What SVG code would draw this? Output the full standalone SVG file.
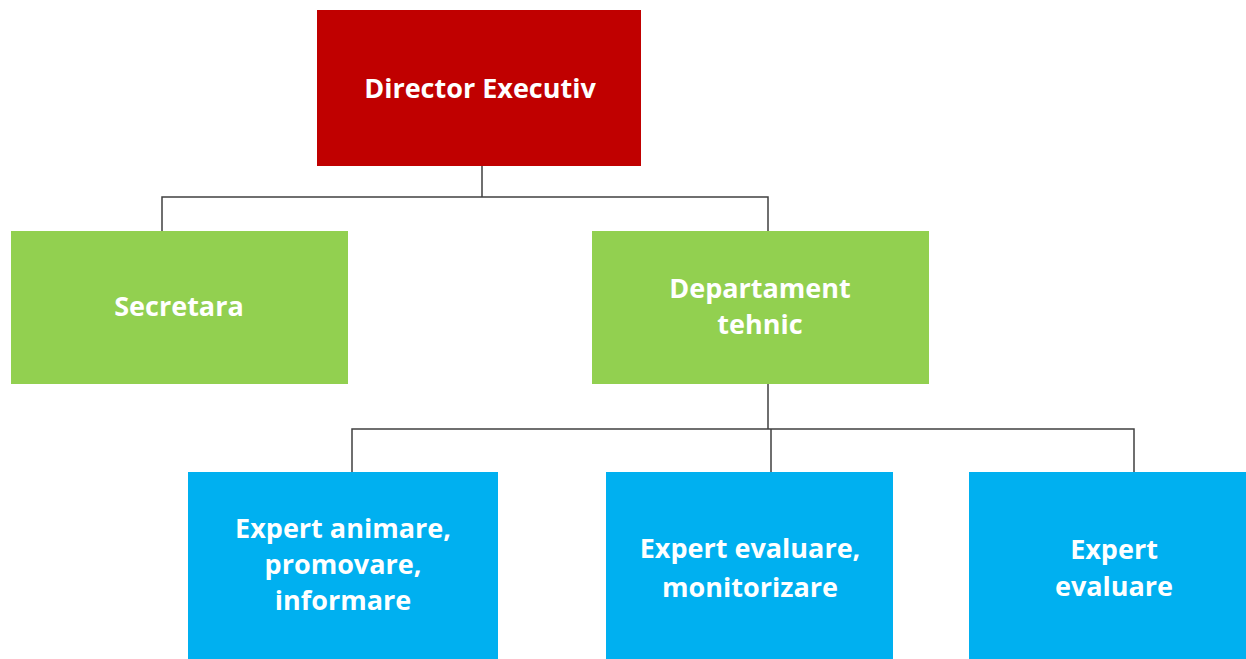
<svg xmlns="http://www.w3.org/2000/svg" width="1246" height="659" viewBox="0 0 1246 659">
<style>
.t{font-family:"Open Sans","Liberation Sans",sans-serif;font-weight:700;font-size:27px;fill:#ffffff;text-anchor:middle}
.red{fill:#c00000}
.green{fill:#92d050}
.blue{fill:#00b0f0}
.c{fill:none;stroke:#404040;stroke-width:1.5}
</style>
<rect width="1246" height="659" fill="#ffffff"/>
<g id="connectors">
<path class="c" d="M482 166V197M162 231V197H768V231"/>
<path class="c" d="M768 384V429M352 472V429H1134V472M771 429V472"/>
</g>
<g id="director">
<rect class="red" x="317" y="10" width="324" height="156"/>
<text class="t" x="480" y="98">Director Executiv</text>
</g>
<g id="secretara">
<rect class="green" x="11" y="231" width="337" height="153"/>
<text class="t" x="179" y="316">Secretara</text>
</g>
<g id="departament">
<rect class="green" x="592" y="231" width="337" height="153"/>
<text class="t" x="760" y="298">Departament</text>
<text class="t" x="760" y="334">tehnic</text>
</g>
<g id="expert1">
<rect class="blue" x="188" y="472" width="310" height="187"/>
<text class="t" x="343" y="538">Expert animare,</text>
<text class="t" x="343" y="574">promovare,</text>
<text class="t" x="343" y="610">informare</text>
</g>
<g id="expert2">
<rect class="blue" x="606" y="472" width="287" height="187"/>
<text class="t" x="750" y="558">Expert evaluare,</text>
<text class="t" x="750" y="597">monitorizare</text>
</g>
<g id="expert3">
<rect class="blue" x="969" y="472" width="277" height="187"/>
<text class="t" x="1114" y="559">Expert</text>
<text class="t" x="1114" y="596">evaluare</text>
</g>
</svg>
